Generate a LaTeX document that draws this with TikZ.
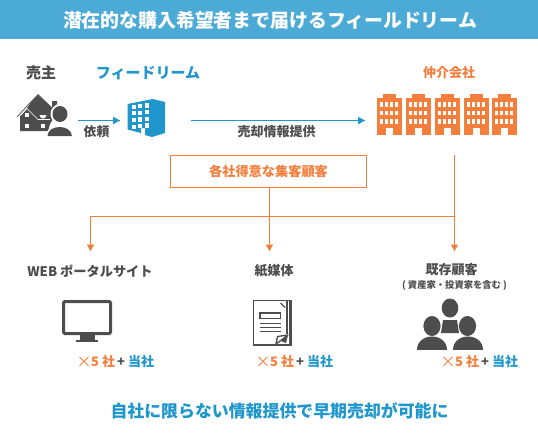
\documentclass[tikz,border=0pt]{standalone}
\usepackage{fontspec}
\setmainfont{Noto Sans CJK JP}
\definecolor{hdr}{HTML}{4CABD6}
\definecolor{blu}{HTML}{1F97CD}
\definecolor{org}{HTML}{F47F3C}
\definecolor{ink}{HTML}{4D4D4D}
\tikzset{
 lbl/.style={inner sep=0pt,font=\fontsize{#1}{#1}\selectfont\bfseries},
 org line/.style={draw=org,line width=1pt},
 blu line/.style={draw=blu,line width=1pt},
}
\usetikzlibrary{calc}
\newcommand{\orgtip}[1]{\fill[org] ($(#1)+(-3.8,-6.5)$) -- ++(7.6,0) -- (#1) -- cycle;}
\newcommand{\blutip}[1]{\fill[blu] ($(#1)+(-7,-3.8)$) -- ++(0,7.6) -- (#1) -- cycle;}
\newcommand{\cnt}[3]{\node[inner sep=0pt,text=org,font=\fontsize{15}{15}\selectfont] (#3x) at (#1+7,#2) {×};
 \node[anchor=west,lbl=13,text=org] (#3a) at (#1+14,#2) {5 社};
 \node[lbl=13,text=ink] (#3b) at (#1+44,#2) {+};
 \node[anchor=west,lbl=13,text=blu] (#3c) at (#1+51,#2) {当社};}
\begin{document}
\begin{tikzpicture}[x=1pt,y=-1pt]
\useasboundingbox (0,0) rectangle (538,445);
\fill[white] (0,0) rectangle (538,445);
\fill[hdr] (0,0) rectangle (538,38.5);
\node[lbl=18.85,text=white] (title) at (270,20) {潜在的な購入希望者まで届けるフィールドリーム};
\node[lbl=15,text=ink] (seller) at (41,73) {売主};
\node[lbl=15,text=blu] (fr) at (148,73) {フィードリーム};
\node[lbl=13,text=org] (agent) at (449,73) {仲介会社};
% house
\fill[ink] (32,101) -- (38,95) -- (52,108) -- (52,101) -- (57,101) -- (57,113) -- (50,124) -- (48,131) -- (20,131) -- (20,116) -- (27,108) -- cycle;
\draw[ink,line width=.7pt] (17,117) -- (27,106) -- (38,94.5) -- (52,108);
\draw[white,line width=.7pt] (20.5,115.5) -- (27,108.5) -- (38,119.5) -- (50,119.5);
\fill[white] (25,113) rectangle (29,117);
\fill[white] (25,123.5) rectangle (29,127.5);
\fill[white] (39.5,115) arc (180:0:3.5) -- cycle;
\fill[white] (40.5,124) rectangle (44.5,128);
% person
\fill[white] (60,114) ellipse (9.5 and 10);
\fill[ink] (60,114) ellipse (7.5 and 8);
\fill[white] (45,137) .. controls (46,122) and (74,122) .. (75,137) -- cycle;
\fill[ink] (47.5,136) .. controls (48,124) and (71,124) .. (72,136) -- cycle;
% building
\fill[blu] (127.5,104) -- (153,99) -- (165,102) -- (165,133) -- (152,137) -- (145,135) -- (145,128) -- (141,128) -- (141,133) -- (127.5,129.5) -- cycle;
\foreach \c/\dx in {0/0,1/6.3,2/13} \foreach \r in {0,1,2,3}
 \fill[white] ({131.5+\dx},{104.5-\c*.6+\r*6.7}) rectangle ++(4,4.2);
% agent buildings
\foreach \bx in {377,406,435,464,492}{
 \fill[org] (\bx+6,94) rectangle (\bx+19,99);
 \fill[org] (\bx,98) rectangle (\bx+25,135);
 \foreach \c in {0,1,2,3} \foreach \r in {0,1,2}
  \fill[white] ({\bx+2.7+\c*5.2},{102+\r*8.6}) rectangle ++(3,4.6);
 \fill[white] (\bx+9,128) rectangle (\bx+16,135);
}
% top connectors
\coordinate (a1) at (78,120.5); \coordinate (a2) at (120,120.5);
\coordinate (b1) at (191,120.5); \coordinate (b2) at (365,120.5);
\draw[blu line] (a1) -- (a2); \blutip{a2}
\draw[blu line] (b1) -- (b2); \blutip{b2}
\node[lbl=12.8,text=ink] (req) at (96.5,132) {依頼};
\node[lbl=13,text=ink] (sale) at (276.5,132) {売却情報提供};
% box
\node[draw=org,line width=1pt,minimum width=196pt,minimum height=32pt,inner sep=0pt,lbl=13.2,text=org] (box) at (268.5,171.5) {各社得意な集客顧客};
\coordinate (j1) at (269.5,216.5); \coordinate (j2) at (454.5,216.5);
\coordinate (t1) at (90.5,251); \coordinate (t2) at (269.5,251); \coordinate (t3) at (454.5,251);
\coordinate (s3) at (454.5,155);
\draw[org line] (box.south -| j1) -- (t2);
\draw[org line] (t1) -- (t1 |- j1) -- (j2);
\draw[org line] (s3) -- (t3);
\orgtip{t1}\orgtip{t2}\orgtip{t3}
% labels
\node[lbl=13.2,text=ink] (web) at (90,271) {WEB ポータルサイト};
\node[lbl=13,text=ink] (paper) at (274,271) {紙媒体};
\node[lbl=13,text=ink] (exist) at (451.5,270) {既存顧客};
\node[lbl=9.3,text=ink] (sub) at (454.5,285) {( 資産家・投資家を含む )};
% monitor
\draw[ink,line width=3pt,rounded corners=1.2pt] (63.5,301.5) rectangle (110.5,333.5);
\fill[ink] (80,335) rectangle (95,340);
\fill[ink] (76,340) rectangle (98,342);
% document
\draw[ink,line width=1.3pt] (253.5,300.5) rectangle (291.5,345);
\fill[ink] (285.5,300.5) rectangle (292,345);
\draw[white,line width=.7pt] (288,300.5) -- (288,345);
\draw[ink,line width=1.3pt] (260,313) rectangle (280.5,318.5);
\draw[ink,line width=1.2pt] (260,323.5) -- (281,323.5) (260,327.5) -- (281,327.5) (260,331.5) -- (281,331.5);
\draw[ink,line width=1.2pt] (280.5,303) -- (285,307.5);
\fill[white] (273,346) -- (276,334) -- (289,334) -- (289,346) -- cycle;
\draw[ink,line width=1.3pt,line join=round] (276,344) -- (277.5,336.5) -- (288,335) -- cycle;
\fill[ink] (281,341) -- (288,335) -- (286,343) -- cycle;
\draw[ink,line width=1.3pt] (253.5,345) -- (291.5,345);
% people
\fill[ink] (450,308) ellipse (8.3 and 9.5);
\fill[ink] (432,326) ellipse (8.6 and 10);
\fill[ink] (467.5,326) ellipse (8.6 and 10);
\fill[ink] (443,320) -- (457,320) -- (459,333) -- (441,333) -- cycle;
\fill[ink] (417,350) .. controls (417,332) and (447,332) .. (447,350) -- cycle;
\fill[ink] (453,350) .. controls (453,332) and (483,332) .. (483,350) -- cycle;
% counts
\cnt{77}{362}{c1}
\cnt{256}{362}{c2}
\cnt{441}{362}{c3}
\node[lbl=16.9,text=blu] (foot) at (279.5,411) {自社に限らない情報提供で早期売却が可能に};
\end{tikzpicture}
\end{document}
